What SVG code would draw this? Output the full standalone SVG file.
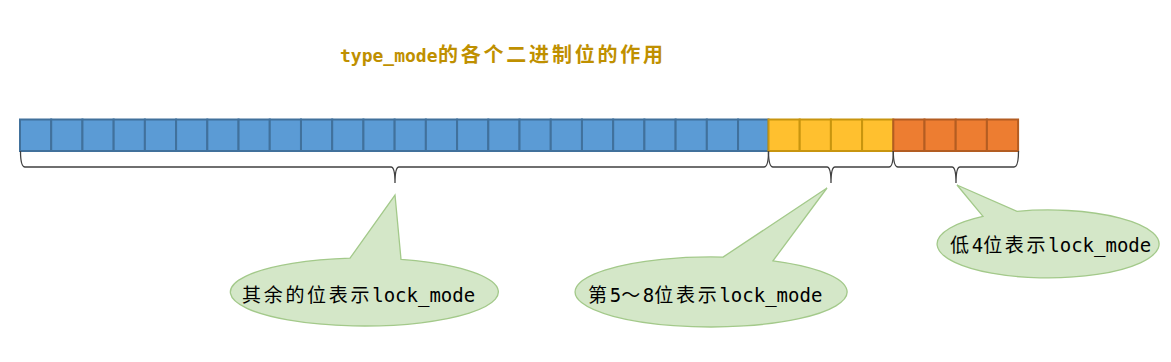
<svg xmlns="http://www.w3.org/2000/svg" width="1171" height="362" viewBox="0 0 1171 362">
<defs>
<style>
.title{font-family:"DejaVu Sans Mono","Noto Sans CJK SC",monospace;font-size:18px;font-weight:bold;fill:#BF9000}
.tc{font-size:20px}
.lbl{font-family:"DejaVu Sans Mono","Noto Sans CJK SC",monospace;font-size:19px;fill:#000}
.lbl .c{letter-spacing:2.7px}
.b{fill:#5B9BD5;stroke:#41719C;stroke-width:2}
.y{fill:#FFC02F;stroke:#C8950F;stroke-width:2}
.o{fill:#ED7D31;stroke:#B35D22;stroke-width:2}
.brace{fill:none;stroke:#404040;stroke-width:1.3}
.callout{fill:#D4E7C8;stroke:#A3C98A;stroke-width:1.3}
</style>
</defs>
<rect width="1171" height="362" fill="#fff"/>
<g id="title">
<text class="title" x="340" y="62">type_mode</text>
<text class="title tc" x="438" y="62" textLength="225" lengthAdjust="spacing">的各个二进制位的作用</text>
</g>
<g id="bits">
<rect class="b" x="20" y="119.5" width="31.22" height="31.5"/>
<rect class="b" x="51.22" y="119.5" width="31.22" height="31.5"/>
<rect class="b" x="82.44" y="119.5" width="31.22" height="31.5"/>
<rect class="b" x="113.66" y="119.5" width="31.22" height="31.5"/>
<rect class="b" x="144.88" y="119.5" width="31.22" height="31.5"/>
<rect class="b" x="176.1" y="119.5" width="31.22" height="31.5"/>
<rect class="b" x="207.32" y="119.5" width="31.22" height="31.5"/>
<rect class="b" x="238.54" y="119.5" width="31.22" height="31.5"/>
<rect class="b" x="269.76" y="119.5" width="31.22" height="31.5"/>
<rect class="b" x="300.98" y="119.5" width="31.22" height="31.5"/>
<rect class="b" x="332.2" y="119.5" width="31.22" height="31.5"/>
<rect class="b" x="363.42" y="119.5" width="31.22" height="31.5"/>
<rect class="b" x="394.64" y="119.5" width="31.22" height="31.5"/>
<rect class="b" x="425.86" y="119.5" width="31.22" height="31.5"/>
<rect class="b" x="457.08" y="119.5" width="31.22" height="31.5"/>
<rect class="b" x="488.3" y="119.5" width="31.22" height="31.5"/>
<rect class="b" x="519.52" y="119.5" width="31.22" height="31.5"/>
<rect class="b" x="550.74" y="119.5" width="31.22" height="31.5"/>
<rect class="b" x="581.96" y="119.5" width="31.22" height="31.5"/>
<rect class="b" x="613.18" y="119.5" width="31.22" height="31.5"/>
<rect class="b" x="644.4" y="119.5" width="31.22" height="31.5"/>
<rect class="b" x="675.62" y="119.5" width="31.22" height="31.5"/>
<rect class="b" x="706.84" y="119.5" width="31.22" height="31.5"/>
<rect class="b" x="738.06" y="119.5" width="30.44" height="31.5"/>
<rect class="y" x="768.5" y="119.5" width="31.2" height="31.5"/>
<rect class="y" x="799.7" y="119.5" width="31.2" height="31.5"/>
<rect class="y" x="830.9" y="119.5" width="31.2" height="31.5"/>
<rect class="y" x="862.1" y="119.5" width="31.2" height="31.5"/>
<rect class="o" x="893.3" y="119.5" width="31.2" height="31.5"/>
<rect class="o" x="924.5" y="119.5" width="31.2" height="31.5"/>
<rect class="o" x="955.7" y="119.5" width="31.2" height="31.5"/>
<rect class="o" x="986.9" y="119.5" width="31.2" height="31.5"/>
</g>
<g id="connectors">
<path class="brace" d="M20.5 151 Q20.5 167 25 167 L391 167 Q395 167 395 183 Q395 167 399 167 L764 167 Q768.5 167 768.5 151"/>
<path class="brace" d="M768.5 151 Q768.5 167 773 167 L827 167 Q831 167 831 183 Q831 167 835 167 L889 167 Q893.3 167 893.3 151"/>
<path class="brace" d="M893.3 151 Q893.3 167 898 167 L952 167 Q956 167 956 183 Q956 167 960 167 L1014 167 Q1018.5 167 1018.5 151"/>
</g>
<g id="callout1">
<path class="callout" d="M350 258.2 L395 195 L401 259.3 A134 34 0 1 1 350 258.2 Z"/>
<text class="lbl" x="242" y="302"><tspan class="c">其余的位表示</tspan>lock_mode</text>
</g>
<g id="callout2">
<path class="callout" d="M723 257.1 L827 188 L773 260.8 A136 35 0 1 1 723 257.1 Z"/>
<text class="lbl" x="588" y="302"><tspan class="c">第</tspan>5<tspan class="c">～</tspan>8<tspan class="c">位表示</tspan>lock_mode</text>
</g>
<g id="callout3">
<path class="callout" d="M983 216.4 L957 185 L1017 211.3 A111 34 0 1 1 983 216.4 Z"/>
<text class="lbl" x="950" y="252"><tspan class="c">低</tspan>4<tspan class="c">位表示</tspan>lock_mode</text>
</g>
</svg>
